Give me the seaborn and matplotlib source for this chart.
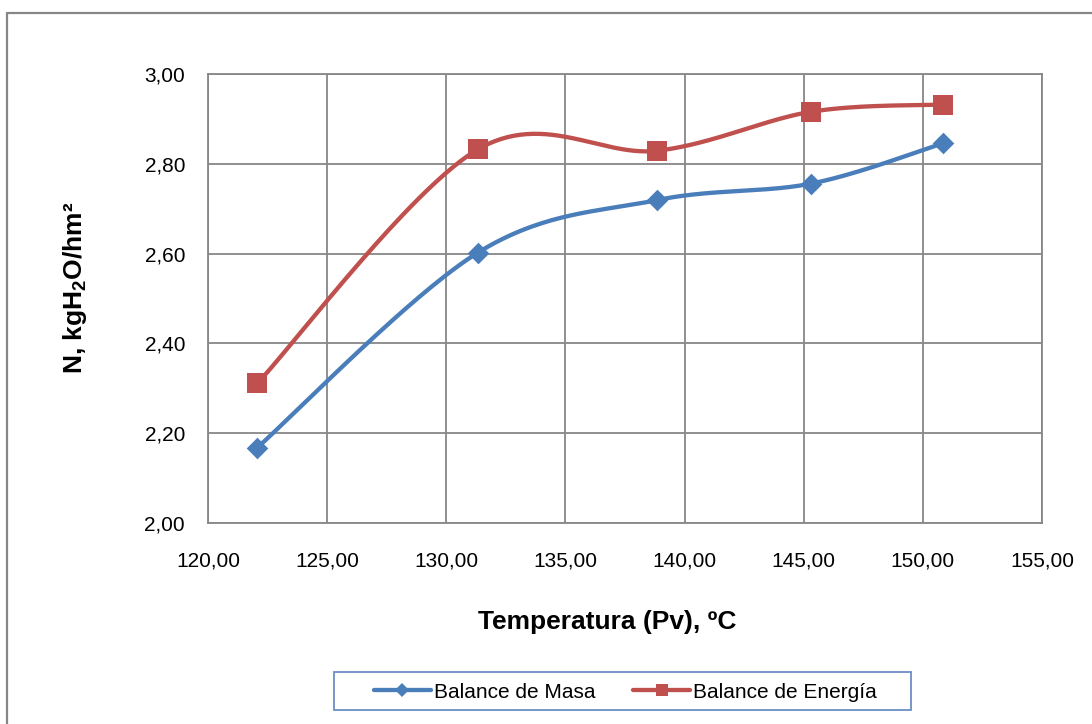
import numpy as np
import pandas as pd
import matplotlib
matplotlib.use("Agg")
import matplotlib.pyplot as plt
from matplotlib.lines import Line2D
from matplotlib.patches import Rectangle
import seaborn as sns

# ---- data ----
temperatura = [122.07, 131.32, 138.83, 145.32, 150.86]
balance_masa = [2.168, 2.602, 2.719, 2.756, 2.846]
balance_energia = [2.311, 2.832, 2.829, 2.916, 2.932]
series_names = ["Balance de Masa", "Balance de Energía"]
x_ticks = [120, 125, 130, 135, 140, 145, 150, 155]
y_ticks = [2.0, 2.2, 2.4, 2.6, 2.8, 3.0]

BLUE = "#4A7EBB"
RED = "#C0504D"
GRID = "#878787"

sns.set_style("white")
plt.rcParams["font.family"] = ["Liberation Sans", "DejaVu Sans"]
plt.rcParams["text.color"] = "black"
plt.rcParams["mathtext.fontset"] = "custom"
plt.rcParams["mathtext.rm"] = "Liberation Sans"
plt.rcParams["mathtext.bf"] = "Liberation Sans:bold"


def smooth(xs, ys, n=60):
    """Excel-like smoothed line (Catmull-Rom as cubic Bezier)."""
    pts = np.column_stack([xs, ys]).astype(float)
    P = np.vstack([pts[0], pts, pts[-1]])
    t = np.linspace(0, 1, n)[:, None]
    out = []
    for i in range(len(pts) - 1):
        p0, p1, p2, p3 = P[i], P[i + 1], P[i + 2], P[i + 3]
        c1 = p1 + (p2 - p0) / 6.0
        c2 = p2 - (p3 - p1) / 6.0
        seg = ((1 - t) ** 3) * p1 + 3 * ((1 - t) ** 2) * t * c1 + 3 * (1 - t) * t ** 2 * c2 + t ** 3 * p2
        out.append(seg if i == 0 else seg[1:])
    seg = np.vstack(out)
    return seg[:, 0], seg[:, 1]


fig = plt.figure(figsize=(10.92, 7.24), dpi=100)
W, H = 1092, 724
ax = fig.add_axes([208 / W, 1 - 523 / H, (1042 - 208) / W, (523 - 74) / H])

# outer chart border (left & top)
fig.add_artist(Line2D([7 / W, 7 / W], [0, 1 - 13 / H], transform=fig.transFigure, color=GRID, lw=1.6))
fig.add_artist(Line2D([7 / W, 1], [1 - 13 / H, 1 - 13 / H], transform=fig.transFigure, color=GRID, lw=1.6))

for name, ys, col, mk, ms in [
    (series_names[0], balance_masa, BLUE, "D", 11),
    (series_names[1], balance_energia, RED, "s", 14),
]:
    sx, sy = smooth(temperatura, ys)
    df_s = pd.DataFrame({"x": sx, "y": sy})
    sns.lineplot(data=df_s, x="x", y="y", ax=ax, color=col, lw=3.1, sort=False, zorder=3)
    df_p = pd.DataFrame({"x": temperatura, "y": ys})
    sns.scatterplot(data=df_p, x="x", y="y", ax=ax, color=col, marker=mk, s=ms ** 2,
                    linewidth=0, zorder=4)

ax.set_xlim(120, 155)
ax.set_ylim(2.0, 3.0)
ax.set_xticks(x_ticks)
ax.set_yticks(y_ticks)
ax.set_xticklabels([f"{v:.2f}".replace(".", ",") for v in x_ticks])
ax.set_yticklabels([f"{v:.2f}".replace(".", ",") for v in y_ticks])
ax.set_xlabel("")
ax.set_ylabel("")
ax.grid(True, color=GRID, lw=1.3)
ax.set_axisbelow(True)
for s in ax.spines.values():
    s.set_color(GRID)
    s.set_linewidth(1.3)
ax.tick_params(axis="both", direction="out", length=4.5, width=1.1, color=GRID,
               labelsize=15, labelcolor="black")
ax.tick_params(axis="x", pad=16)
ax.tick_params(axis="y", pad=12)

fig.text(607 / W, 1 - 629 / H, "Temperatura (Pv), ºC", ha="center", va="baseline",
         fontsize=19, fontweight="bold", color="black")
fig.text(75 / W, 1 - 288 / H, r"N, kgH$\mathbf{_2}$O/hm²", rotation=90, ha="center",
         va="center", fontsize=19, fontweight="bold", color="black")

handles = [
    Line2D([], [], color=BLUE, lw=3.1, marker="D", markersize=7.5, markeredgewidth=0),
    Line2D([], [], color=RED, lw=3.1, marker="s", markersize=9, markeredgewidth=0),
]
leg = fig.legend(handles, series_names, loc="center", bbox_to_anchor=(625.5 / W, 1 - 692 / H),
                 bbox_transform=fig.transFigure, ncol=2, frameon=False, fontsize=15,
                 handlelength=2.74, handletextpad=0.15, columnspacing=1.8, borderpad=0)
for t in leg.get_texts():
    t.set_color("black")
fig.add_artist(Rectangle((334 / W, 1 - 710 / H), (911 - 334) / W, 38 / H,
                         transform=fig.transFigure, fill=False, ec="#6A8FC4", lw=1.3))

fig.savefig("out.png", dpi=100, facecolor="white")
